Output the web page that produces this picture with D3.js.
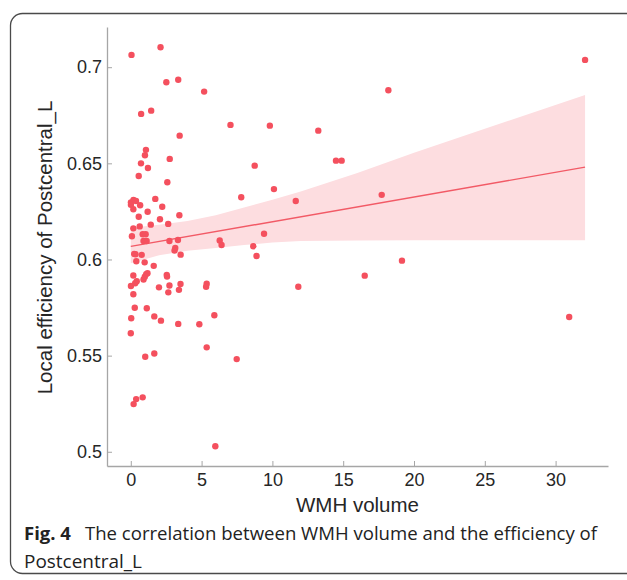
<!DOCTYPE html>
<html>
<head>
<meta charset="utf-8">
<script src="https://cdn.jsdelivr.net/npm/d3@7"></script>
<style>
  body { margin: 0; background: #fff; }
  svg { display: block; }
</style>
</head>
<body>
<svg id="chart" width="627" height="580"></svg>
<script>
// WMH volume (x) vs local efficiency of Postcentral_L (y)
const wmh = [0.05, 2.10, 2.51, 3.35, 5.18, 0.73, 1.44, 7.04, 9.82, 13.24,
  3.45, 1.07, 1.00, 0.72, 1.21, 2.75, 0.56, 2.58, 8.75, 10.11,
  7.80, 11.65, 0.01, 0.19, 0.37, 0.01, 0.18, 0.66, 1.73, 2.22,
  1.19, 0.56, 2.06, 3.43, 2.64, 1.41, 0.63, 0.18, 9.41, 0.08,
  0.84, 1.05, 0.90, 1.12, 2.73, 3.33, 6.28, 6.41, 3.14, 3.09,
  8.65, 8.88, 3.52, 0.24, 0.33, 0.77, 0.39, 0.98, 1.62, 0.18,
  0.01, 0.18, 0.42, 0.31, 0.90, 0.99, 1.09, 1.18, 2.54, 2.56,
  1.99, 2.73, 2.65, 3.51, 3.40, 5.36, 5.32, 11.83, 0.28, 1.13,
  0.03, 1.66, 2.13, 3.35, 4.84, 5.90, 0.00, 1.02, 1.66, 5.36,
  7.48, 0.84, 0.38, 0.20, 5.97, 32.08, 18.19, 14.49, 14.89, 17.72,
  19.15, 16.52, 30.96];
const eff = [0.7064, 0.7104, 0.6922, 0.6935, 0.6873, 0.6757, 0.6774, 0.6700, 0.6696, 0.6670,
  0.6644, 0.6570, 0.6542, 0.6500, 0.6476, 0.6523, 0.6434, 0.6402, 0.6488, 0.6366,
  0.6324, 0.6304, 0.6297, 0.6310, 0.6304, 0.6284, 0.6261, 0.6282, 0.6315, 0.6274,
  0.6248, 0.6222, 0.6209, 0.6230, 0.6185, 0.6181, 0.6172, 0.6162, 0.6134, 0.6121,
  0.6131, 0.6131, 0.6096, 0.6096, 0.6096, 0.6101, 0.6099, 0.6075, 0.6060, 0.6047,
  0.6069, 0.6018, 0.6025, 0.6029, 0.6027, 0.6024, 0.5991, 0.5985, 0.5967, 0.5917,
  0.5862, 0.5819, 0.5887, 0.5876, 0.5896, 0.5910, 0.5924, 0.5928, 0.5920, 0.5911,
  0.5855, 0.5865, 0.5829, 0.5873, 0.5842, 0.5874, 0.5858, 0.5858, 0.5749, 0.5746,
  0.5694, 0.5704, 0.5682, 0.5665, 0.5663, 0.5710, 0.5616, 0.5494, 0.5511, 0.5543,
  0.5482, 0.5283, 0.5274, 0.5248, 0.5029, 0.7038, 0.6880, 0.6514, 0.6514, 0.6336,
  0.5994, 0.5916, 0.5701];

// fitted line and its confidence band
const fitX = [0, 32.08];
const fitY = [0.6068, 0.6480];
const bandX = [0, 2, 4, 6, 8, 10, 12, 16, 20, 25, 32.08];
const bandHi = [0.6165, 0.6180, 0.6200, 0.6230, 0.6270, 0.6310, 0.6353, 0.6450, 0.6555, 0.6680, 0.6856];
const bandLo = [0.5980, 0.6022, 0.6045, 0.6060, 0.6075, 0.6088, 0.6096, 0.6099, 0.6100, 0.6100, 0.6100];

const xTicks = [0, 5, 10, 15, 20, 25, 30];
const yTicks = [0.5, 0.55, 0.6, 0.65, 0.7];

const svg = d3.select("#chart");
const plotL = 107, plotR = 608, plotT = 27, plotB = 466;

const x = d3.scaleLinear().domain([-1.68, 33.7]).range([plotL, plotR]);
const y = d3.scaleLinear().domain([0.4926, 0.7209]).range([plotB, plotT]);

const red = "#f4505e";

// outer frame
svg.append("rect")
  .attr("x", 10.5).attr("y", 13.5)
  .attr("width", 650).attr("height", 560)
  .attr("rx", 12)
  .attr("fill", "none")
  .attr("stroke", "#4a4a4a")
  .attr("stroke-width", 1.3);

// confidence band
const band = bandX.map((d, i) => ({ x: d, lo: bandLo[i], hi: bandHi[i] }));
svg.append("path")
  .datum(band)
  .attr("fill", "#fddde0")
  .attr("d", d3.area().x(d => x(d.x)).y0(d => y(d.lo)).y1(d => y(d.hi)));

// regression line
svg.append("path")
  .datum(fitX.map((d, i) => [d, fitY[i]]))
  .attr("fill", "none")
  .attr("stroke", "#f25a66")
  .attr("stroke-width", 1.4)
  .attr("d", d3.line().x(d => x(d[0])).y(d => y(d[1])));

// points
svg.append("g")
  .selectAll("circle")
  .data(wmh.map((d, i) => [d, eff[i]]))
  .enter().append("circle")
    .attr("cx", d => x(d[0]))
    .attr("cy", d => y(d[1]))
    .attr("r", 3.2)
    .attr("fill", red);

// axes
const xAxis = svg.append("g")
  .attr("transform", `translate(0,${plotB})`)
  .call(d3.axisBottom(x).tickValues(xTicks).tickSize(-5).tickSizeOuter(0).tickPadding(7));
const yAxis = svg.append("g")
  .attr("transform", `translate(${plotL},0)`)
  .call(d3.axisLeft(y).tickValues(yTicks).tickFormat(d3.format("~g")).tickSize(-5).tickSizeOuter(0).tickPadding(5));

[xAxis, yAxis].forEach(g => {
  g.select(".domain").attr("stroke", "#a6a6a6").attr("stroke-width", 1.3);
  g.selectAll(".tick line").attr("stroke", "#a6a6a6");
  g.selectAll(".tick text")
    .attr("fill", "#262626")
    .style("font-family", "'Liberation Sans', Arial, sans-serif")
    .style("font-size", "18px");
});

// axis titles
svg.append("text")
  .attr("x", (plotL + plotR) / 2)
  .attr("y", 512)
  .attr("text-anchor", "middle")
  .style("font-family", "'Liberation Sans', Arial, sans-serif")
  .style("font-size", "20.5px")
  .attr("fill", "#262626")
  .text("WMH volume");

svg.append("text")
  .attr("transform", `translate(52,${(97 + 398) / 2}) rotate(-90)`)
  .attr("text-anchor", "middle")
  .style("font-family", "'Liberation Sans', Arial, sans-serif")
  .style("font-size", "20.5px")
  .attr("fill", "#262626")
  .text("Local efficiency of Postcentral_L");

// caption
const cap = svg.append("text")
  .attr("x", 24).attr("y", 540)
  .style("font-family", "'Open Sans', 'Noto Sans', sans-serif")
  .style("font-size", "18.5px")
  .attr("fill", "#222");
cap.append("tspan").style("font-weight", "bold").text("Fig. 4");
cap.append("tspan").attr("x", 85).text("The correlation between WMH volume and the efficiency of")
  .attr("textLength", 512).attr("lengthAdjust", "spacingAndGlyphs");

svg.append("text")
  .attr("x", 24).attr("y", 568)
  .style("font-family", "'Open Sans', 'Noto Sans', sans-serif")
  .style("font-size", "18.5px")
  .attr("fill", "#222")
  .attr("textLength", 118).attr("lengthAdjust", "spacingAndGlyphs")
  .text("Postcentral_L");
</script>
</body>
</html>
